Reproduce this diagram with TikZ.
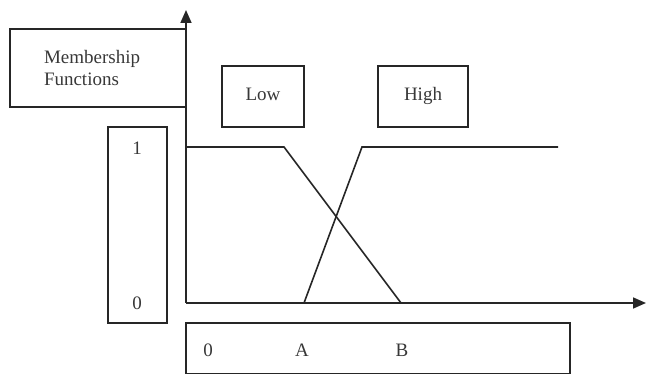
\documentclass[tikz,border=0pt]{standalone}
\usepackage{fontspec}
\setmainfont{Liberation Serif}
\usetikzlibrary{arrows.meta}
\definecolor{ink}{HTML}{262626}
\definecolor{txtc}{HTML}{383838}
\begin{document}
\begin{tikzpicture}[x=1pt,y=-1pt,
  box/.style={draw=ink, line width=2.4pt, inner sep=0pt, text=txtc,
    font=\fontsize{19}{22}\selectfont},
  lbl/.style={text height=13pt, text depth=4pt},
  txt/.style={inner sep=0pt, text=txtc, font=\fontsize{19}{22}\selectfont,
    text height=13pt, text depth=4pt},
  axis/.style={draw=ink, line width=1.7pt, -{Triangle[length=13pt,width=11pt]}},
  curve/.style={draw=ink, line width=1.6pt, line join=miter}]
\useasboundingbox (0,0) rectangle (646,374);
% boxes
\node[box, minimum width=176, minimum height=78, text width=108,
      inner xsep=34, align=left] (mf) at (98,68) {Membership\\Functions};
\node[box, lbl, minimum width=82, minimum height=61] (low) at (263,96.5) {Low\hspace{7pt}};
\node[box, lbl, minimum width=90, minimum height=61] (high) at (423,96.5) {High};
\node[box, minimum width=59, minimum height=196] (yb) at (137.5,225) {};
\node[txt] (one) at (137,150.5) {1};
\node[txt] (zeroy) at (137,305.5) {0};
\node[box, minimum width=384, minimum height=51] (xb) at (378,348.5) {};
\node[txt] (zerox) at (208,352.5) {0};
\node[txt] (la) at (302,352.5) {A};
\node[txt] (lb) at (402,352.5) {B};
% axes
\coordinate (O) at (186,303);
\coordinate (ytop) at (186,10);
\coordinate (xend) at (646,303);
\draw[axis] (O) -- (ytop);
\draw[axis] (O) -- (xend);
% membership functions
\coordinate (l0) at (186,147);
\coordinate (l1) at (284,147);
\coordinate (l2) at (401,303);
\coordinate (h0) at (304,303);
\coordinate (h1) at (362,147);
\coordinate (h2) at (558,147);
\draw[curve] (l0) -- (l1) -- (l2);
\draw[curve] (h0) -- (h1) -- (h2);
\end{tikzpicture}
\end{document}
